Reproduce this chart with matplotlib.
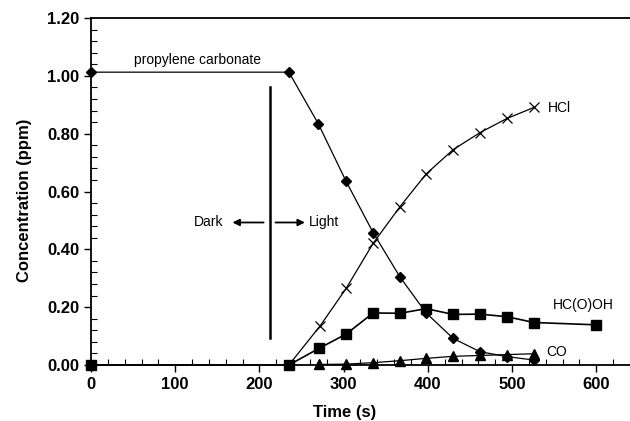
import matplotlib
matplotlib.use('Agg')
import matplotlib.pyplot as plt
from matplotlib.ticker import MultipleLocator, FormatStrFormatter

plt.rcParams['font.family'] = ['Liberation Sans', 'DejaVu Sans']

# propylene carbonate (diamonds)
t_pc = [0, 235, 270, 303, 335, 367, 398, 430, 462, 494, 526]
pc = [1.013, 1.013, 0.834, 0.635, 0.458, 0.304, 0.180, 0.092, 0.046, 0.029, 0.017]

# HCl (crosses)
t_hcl = [235, 272, 303, 335, 367, 398, 430, 462, 494, 526]
hcl = [0.0, 0.135, 0.265, 0.421, 0.548, 0.661, 0.745, 0.804, 0.853, 0.891]

# HC(O)OH (squares)
t_hc = [0, 235, 271, 303, 335, 367, 398, 430, 462, 494, 526, 600]
hc = [0.0, 0.0, 0.058, 0.107, 0.180, 0.179, 0.195, 0.175, 0.176, 0.167, 0.147, 0.139]

# CO (triangles)
t_co = [271, 303, 335, 367, 398, 430, 462, 494, 526]
co = [0.002, 0.003, 0.008, 0.015, 0.023, 0.030, 0.033, 0.036, 0.039]

fig = plt.figure(figsize=(6.3, 4.21), dpi=100)
ax = fig.add_axes([0.1444, 0.133, 0.8556, 0.824])

ax.plot(t_pc, pc, color='black', lw=0.9, marker='D', ms=5.5, zorder=3, clip_on=False)
ax.plot(t_hcl, hcl, color='black', lw=0.9, marker='x', ms=7, mew=0.9, zorder=3, clip_on=False)
ax.plot(t_hc, hc, color='black', lw=1.2, marker='s', ms=7.5, zorder=4, clip_on=False)
ax.plot(t_co, co, color='black', lw=0.9, marker='^', ms=6.5, zorder=3, clip_on=False)

# dark / light divider
ax.plot([213, 213], [0.095, 0.96], color='black', lw=1.8)
ax.annotate('', xy=(168, 0.493), xytext=(205, 0.493),
            arrowprops=dict(arrowstyle='-|>', color='black', lw=1.3, mutation_scale=10,
                            shrinkA=0, shrinkB=0))
ax.annotate('', xy=(254, 0.493), xytext=(219, 0.493),
            arrowprops=dict(arrowstyle='-|>', color='black', lw=1.3, mutation_scale=10,
                            shrinkA=0, shrinkB=0))
ax.text(157, 0.493, 'Dark', ha='right', va='center', fontsize=10)
ax.text(259, 0.493, 'Light', ha='left', va='center', fontsize=10)

ax.text(126, 1.055, 'propylene carbonate', ha='center', va='center', fontsize=10)
ax.text(543, 0.89, 'HCl', ha='left', va='center', fontsize=10)
ax.text(548, 0.207, 'HC(O)OH', ha='left', va='center', fontsize=10)
ax.text(541, 0.045, 'CO', ha='left', va='center', fontsize=10)

ax.set_xlim(0, 640)
ax.set_ylim(0, 1.20)
ax.xaxis.set_major_locator(MultipleLocator(100))
ax.xaxis.set_minor_locator(MultipleLocator(20))
ax.yaxis.set_major_locator(MultipleLocator(0.2))
ax.yaxis.set_minor_locator(MultipleLocator(0.04))
ax.yaxis.set_major_formatter(FormatStrFormatter('%.2f'))

ax.spines['right'].set_visible(False)
for s in ['left', 'bottom', 'top']:
    ax.spines[s].set_linewidth(1.3)
ax.tick_params(which='major', direction='out', length=5, width=1, labelsize=12)
ax.tick_params(which='minor', direction='in', length=4, width=0.8)
ax.tick_params(top=False, right=False, which='both')
for lab in ax.get_xticklabels() + ax.get_yticklabels():
    lab.set_fontweight('bold')

ax.set_xlabel('Time (s)', fontsize=12, fontweight='bold')
ax.set_ylabel('Concentration (ppm)', fontsize=12, fontweight='bold')
ax.xaxis.set_label_coords(0.471, -0.115)
ax.yaxis.set_label_coords(-0.11, 0.475)

plt.savefig('out.png', dpi=100)
